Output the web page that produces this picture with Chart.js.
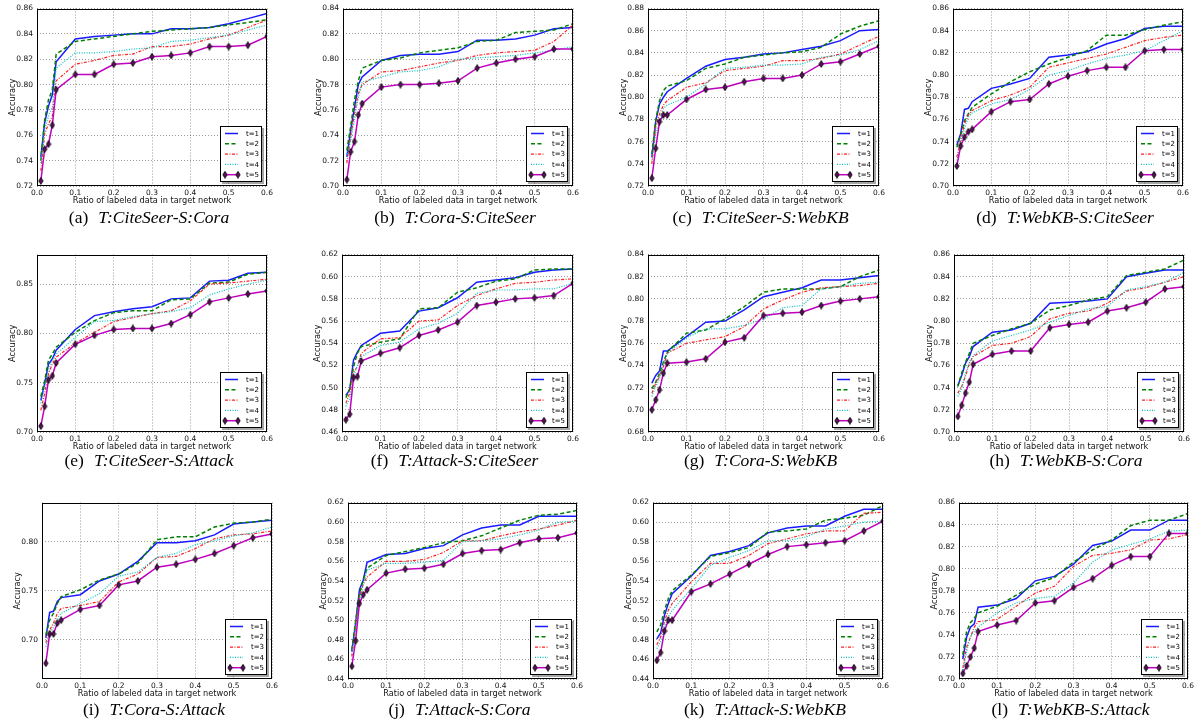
<!DOCTYPE html>
<html><head><meta charset="utf-8">
<script src="https://cdn.jsdelivr.net/npm/chart.js@4.4.0/dist/chart.umd.min.js"></script>
<style>
html,body{margin:0;padding:0;background:#fff;width:1201px;height:725px;overflow:hidden;position:relative;}
canvas{position:absolute;}
.cap{position:absolute;font-family:"Liberation Serif","Times New Roman",serif;font-size:17.5px;color:#000;white-space:nowrap;transform:translate(-50%,-50%);line-height:1;}
.cap i{margin-left:10px;}
</style></head><body>
<script>
const ratios = [0.01,0.02,0.03,0.04,0.05,0.1,0.15,0.2,0.25,0.3,0.35,0.4,0.45,0.5,0.55,0.6];
const seriesLabels = ['t=1','t=2','t=3','t=4','t=5'];
const xTickLabels = ['0.0','0.1','0.2','0.3','0.4','0.5','0.6'];
const xTitle = 'Ratio of labeled data in target network';
const yTitle = 'Accuracy';

// (a) T:CiteSeer-S:Cora
const a_t1 = [0.743,0.770,0.783,0.792,0.818,0.836,0.838,0.839,0.840,0.840,0.844,0.844,0.845,0.848,0.852,0.856];
const a_t2 = [0.740,0.772,0.788,0.796,0.824,0.834,0.836,0.838,0.840,0.842,0.843,0.844,0.845,0.847,0.849,0.851];
const a_t3 = [0.732,0.761,0.769,0.775,0.803,0.816,0.819,0.823,0.824,0.830,0.830,0.832,0.836,0.839,0.845,0.851];
const a_t4 = [0.738,0.764,0.775,0.782,0.813,0.825,0.825,0.826,0.828,0.829,0.834,0.835,0.837,0.839,0.843,0.847];
const a_t5 = [0.724,0.749,0.753,0.768,0.796,0.808,0.808,0.816,0.817,0.822,0.823,0.825,0.830,0.830,0.831,0.838];
// (b) T:Cora-S:CiteSeer
const b_t1 = [0.723,0.744,0.762,0.780,0.786,0.799,0.803,0.804,0.804,0.806,0.815,0.815,0.816,0.819,0.824,0.825];
const b_t2 = [0.728,0.747,0.768,0.783,0.793,0.799,0.801,0.805,0.807,0.809,0.814,0.815,0.821,0.822,0.823,0.828];
const b_t3 = [0.718,0.739,0.757,0.773,0.780,0.790,0.791,0.794,0.797,0.799,0.803,0.805,0.806,0.807,0.814,0.827];
const b_t4 = [0.723,0.736,0.752,0.770,0.782,0.786,0.790,0.791,0.794,0.800,0.801,0.802,0.803,0.805,0.807,0.810];
const b_t5 = [0.705,0.727,0.735,0.756,0.765,0.778,0.780,0.780,0.781,0.783,0.793,0.797,0.800,0.802,0.808,0.808];
// (c) T:CiteSeer-S:WebKB
const c_t1 = [0.746,0.778,0.794,0.800,0.805,0.817,0.828,0.834,0.836,0.839,0.840,0.843,0.846,0.851,0.860,0.861];
const c_t2 = [0.749,0.779,0.797,0.806,0.810,0.815,0.826,0.830,0.836,0.838,0.840,0.841,0.845,0.857,0.864,0.869];
const c_t3 = [0.740,0.773,0.785,0.793,0.797,0.809,0.813,0.824,0.826,0.828,0.833,0.833,0.835,0.839,0.847,0.855];
const c_t4 = [0.743,0.767,0.778,0.790,0.793,0.800,0.812,0.826,0.827,0.829,0.829,0.830,0.836,0.838,0.843,0.851];
const c_t5 = [0.727,0.754,0.778,0.784,0.784,0.798,0.807,0.809,0.814,0.817,0.817,0.820,0.830,0.832,0.839,0.846];
// (d) T:WebKB-S:CiteSeer
const d_t1 = [0.737,0.747,0.769,0.770,0.776,0.788,0.792,0.797,0.816,0.818,0.821,0.828,0.833,0.842,0.844,0.844];
const d_t2 = [0.735,0.746,0.759,0.765,0.771,0.783,0.794,0.803,0.810,0.816,0.822,0.836,0.836,0.841,0.845,0.848];
const d_t3 = [0.726,0.741,0.756,0.764,0.768,0.777,0.782,0.789,0.807,0.811,0.815,0.819,0.825,0.831,0.834,0.836];
const d_t4 = [0.723,0.738,0.752,0.762,0.766,0.774,0.778,0.787,0.800,0.804,0.810,0.815,0.818,0.822,0.831,0.840];
const d_t5 = [0.718,0.736,0.744,0.749,0.751,0.767,0.776,0.778,0.792,0.799,0.804,0.807,0.807,0.822,0.823,0.823];
// (e) T:CiteSeer-S:Attack
const e_t1 = [0.732,0.749,0.769,0.774,0.783,0.804,0.818,0.822,0.825,0.827,0.835,0.836,0.853,0.854,0.861,0.862];
const e_t2 = [0.736,0.752,0.773,0.779,0.786,0.801,0.813,0.821,0.823,0.823,0.834,0.835,0.851,0.852,0.860,0.862];
const e_t3 = [0.722,0.739,0.759,0.769,0.776,0.790,0.801,0.812,0.816,0.820,0.823,0.833,0.850,0.851,0.853,0.855];
const e_t4 = [0.729,0.746,0.763,0.773,0.779,0.796,0.812,0.813,0.817,0.820,0.822,0.826,0.839,0.845,0.850,0.854];
const e_t5 = [0.706,0.726,0.753,0.757,0.770,0.789,0.798,0.804,0.805,0.805,0.810,0.819,0.832,0.836,0.840,0.843];
// (f) T:Attack-S:CiteSeer
const f_t1 = [0.493,0.498,0.525,0.532,0.538,0.549,0.551,0.569,0.572,0.581,0.595,0.597,0.599,0.604,0.606,0.607];
const f_t2 = [0.491,0.499,0.519,0.531,0.537,0.541,0.544,0.571,0.572,0.586,0.590,0.596,0.598,0.606,0.607,0.607];
const f_t3 = [0.486,0.495,0.514,0.519,0.531,0.544,0.545,0.560,0.561,0.574,0.583,0.589,0.594,0.595,0.597,0.598];
const f_t4 = [0.483,0.490,0.510,0.520,0.528,0.538,0.541,0.553,0.558,0.567,0.585,0.588,0.588,0.589,0.589,0.594];
const f_t5 = [0.471,0.476,0.509,0.510,0.524,0.531,0.536,0.547,0.552,0.559,0.574,0.577,0.580,0.581,0.583,0.594];
// (g) T:Cora-S:WebKB
const g_t1 = [0.724,0.731,0.735,0.753,0.753,0.766,0.779,0.780,0.790,0.802,0.806,0.810,0.817,0.817,0.819,0.821];
const g_t2 = [0.719,0.725,0.733,0.743,0.752,0.769,0.772,0.782,0.793,0.806,0.809,0.809,0.809,0.811,0.820,0.826];
const g_t3 = [0.715,0.724,0.730,0.739,0.751,0.760,0.763,0.766,0.775,0.791,0.799,0.806,0.810,0.811,0.812,0.814];
const g_t4 = [0.712,0.721,0.728,0.742,0.751,0.765,0.773,0.773,0.776,0.782,0.792,0.794,0.809,0.811,0.814,0.815];
const g_t5 = [0.700,0.709,0.718,0.733,0.742,0.743,0.746,0.761,0.765,0.785,0.787,0.788,0.794,0.798,0.800,0.802];
// (h) T:WebKB-S:Cora
const h_t1 = [0.742,0.751,0.762,0.768,0.777,0.790,0.792,0.798,0.816,0.817,0.818,0.820,0.840,0.843,0.846,0.846];
const h_t2 = [0.741,0.753,0.763,0.771,0.780,0.787,0.793,0.798,0.810,0.814,0.819,0.822,0.841,0.844,0.847,0.855];
const h_t3 = [0.735,0.741,0.750,0.762,0.768,0.778,0.780,0.786,0.802,0.807,0.809,0.816,0.827,0.830,0.835,0.840];
const h_t4 = [0.732,0.739,0.753,0.763,0.769,0.782,0.787,0.792,0.799,0.805,0.811,0.813,0.828,0.831,0.835,0.844];
const h_t5 = [0.714,0.724,0.735,0.745,0.761,0.770,0.773,0.773,0.794,0.797,0.799,0.809,0.812,0.817,0.829,0.831];
// (i) T:Cora-S:Attack
const i_t1 = [0.702,0.728,0.729,0.739,0.743,0.746,0.760,0.767,0.780,0.799,0.799,0.801,0.807,0.818,0.820,0.822];
const i_t2 = [0.705,0.720,0.727,0.737,0.744,0.751,0.761,0.767,0.778,0.802,0.805,0.805,0.815,0.819,0.820,0.823];
const i_t3 = [0.697,0.710,0.717,0.727,0.732,0.735,0.739,0.759,0.767,0.784,0.785,0.793,0.803,0.807,0.808,0.811];
const i_t4 = [0.693,0.707,0.713,0.722,0.727,0.737,0.747,0.765,0.769,0.784,0.788,0.797,0.801,0.806,0.809,0.815];
const i_t5 = [0.676,0.706,0.706,0.717,0.720,0.731,0.735,0.756,0.760,0.774,0.777,0.782,0.788,0.796,0.804,0.808];
// (j) T:Attack-S:Cora
const j_t1 = [0.468,0.497,0.531,0.541,0.559,0.567,0.568,0.573,0.576,0.587,0.594,0.597,0.597,0.606,0.606,0.606];
const j_t2 = [0.470,0.499,0.527,0.541,0.553,0.566,0.570,0.574,0.579,0.581,0.586,0.594,0.602,0.607,0.608,0.612];
const j_t3 = [0.463,0.493,0.524,0.537,0.544,0.560,0.560,0.562,0.569,0.581,0.581,0.586,0.590,0.593,0.597,0.602];
const j_t4 = [0.465,0.492,0.520,0.536,0.551,0.558,0.558,0.559,0.561,0.580,0.581,0.583,0.587,0.592,0.600,0.601];
const j_t5 = [0.453,0.479,0.517,0.526,0.531,0.548,0.552,0.553,0.557,0.568,0.571,0.572,0.579,0.583,0.584,0.589];
// (k) T:Attack-S:WebKB
const k_t1 = [0.481,0.487,0.505,0.517,0.527,0.545,0.566,0.570,0.576,0.589,0.594,0.596,0.596,0.606,0.613,0.613];
const k_t2 = [0.488,0.495,0.510,0.522,0.530,0.546,0.565,0.569,0.574,0.590,0.591,0.593,0.602,0.604,0.607,0.617];
const k_t3 = [0.475,0.483,0.499,0.510,0.517,0.539,0.558,0.558,0.566,0.578,0.583,0.588,0.591,0.591,0.609,0.610];
const k_t4 = [0.471,0.478,0.493,0.504,0.510,0.532,0.556,0.564,0.571,0.581,0.581,0.585,0.593,0.596,0.600,0.601];
const k_t5 = [0.459,0.467,0.489,0.500,0.500,0.529,0.537,0.547,0.557,0.567,0.575,0.577,0.579,0.581,0.591,0.601];
// (l) T:WebKB-S:Attack
const l_t1 = [0.718,0.738,0.747,0.750,0.765,0.767,0.773,0.789,0.793,0.804,0.821,0.825,0.835,0.835,0.844,0.844];
const l_t2 = [0.722,0.743,0.751,0.755,0.760,0.766,0.776,0.786,0.792,0.806,0.817,0.826,0.839,0.844,0.844,0.850];
const l_t3 = [0.710,0.729,0.738,0.747,0.752,0.754,0.766,0.778,0.784,0.802,0.812,0.814,0.817,0.826,0.827,0.831];
const l_t4 = [0.708,0.725,0.738,0.743,0.747,0.760,0.769,0.773,0.775,0.787,0.806,0.817,0.822,0.827,0.834,0.835];
const l_t5 = [0.705,0.712,0.720,0.728,0.743,0.749,0.753,0.769,0.771,0.783,0.791,0.803,0.811,0.811,0.832,0.832];

// y-axis ranges: [min, max, step]
const yRange_a = [0.72,0.86,0.02], yRange_b = [0.70,0.84,0.02], yRange_c = [0.72,0.88,0.02], yRange_d = [0.70,0.86,0.02];
const yRange_e = [0.70,0.88,0.05], yRange_f = [0.46,0.62,0.02], yRange_g = [0.68,0.84,0.02], yRange_h = [0.70,0.86,0.02];
const yRange_i = [0.66,0.84,0.05], yRange_j = [0.44,0.62,0.02], yRange_k = [0.44,0.62,0.02], yRange_l = [0.70,0.86,0.02];

const panelTags = ['a','b','c','d','e','f','g','h','i','j','k','l'];
const panelNames = ['T:CiteSeer-S:Cora','T:Cora-S:CiteSeer','T:CiteSeer-S:WebKB','T:WebKB-S:CiteSeer',
  'T:CiteSeer-S:Attack','T:Attack-S:CiteSeer','T:Cora-S:WebKB','T:WebKB-S:Cora',
  'T:Cora-S:Attack','T:Attack-S:Cora','T:Attack-S:WebKB','T:WebKB-S:Attack'];
const panelSeries = [
  [a_t1,a_t2,a_t3,a_t4,a_t5],[b_t1,b_t2,b_t3,b_t4,b_t5],[c_t1,c_t2,c_t3,c_t4,c_t5],[d_t1,d_t2,d_t3,d_t4,d_t5],
  [e_t1,e_t2,e_t3,e_t4,e_t5],[f_t1,f_t2,f_t3,f_t4,f_t5],[g_t1,g_t2,g_t3,g_t4,g_t5],[h_t1,h_t2,h_t3,h_t4,h_t5],
  [i_t1,i_t2,i_t3,i_t4,i_t5],[j_t1,j_t2,j_t3,j_t4,j_t5],[k_t1,k_t2,k_t3,k_t4,k_t5],[l_t1,l_t2,l_t3,l_t4,l_t5]];
const panelY = [yRange_a,yRange_b,yRange_c,yRange_d,yRange_e,yRange_f,yRange_g,yRange_h,yRange_i,yRange_j,yRange_k,yRange_l];

// ---- layout (plot area: left, top, width, height) ----
const plotBoxes = [
 [37,8,230,178],[343,8,230,178],[648,8,231,178],[953,8,230,178],
 [37,254,230,178],[342,254,231,178],[648,254,231,178],[954,254,230,178],
 [42,502,230,177],[348,502,229,177],[653,502,230,177],[959,502,229,177]];
const captionY = [218,461,710];
const AXW = 40, PADT = 8, PADR = 14, XAH = 24;

const lineStyles = [
 {color:'#1a1aff', dash:[], w:1.5},
 {color:'#008000', dash:[4,2.5], w:1.5},
 {color:'#ff2020', dash:[3,1.5,1,1.5], w:1.2},
 {color:'#00bfbf', dash:[1,1.5], w:1.2},
 {color:'#bf00bf', dash:[], w:1.5, marker:true}];

function makeDiamond(){
  const c=document.createElement('canvas'); c.width=6; c.height=8;
  const x=c.getContext('2d');
  x.beginPath(); x.moveTo(3,0.6); x.lineTo(5.2,4); x.lineTo(3,7.4); x.lineTo(0.8,4); x.closePath();
  x.fillStyle='#5a105a'; x.fill(); x.strokeStyle='#000'; x.lineWidth=0.8; x.stroke();
  return c;
}
const diamond = makeDiamond();

const frameLegend = {
  id:'frameLegend',
  afterDatasetsDraw(chart){
    const {ctx, chartArea:ca} = chart;
    ctx.save();
    ctx.setLineDash([]);
    ctx.strokeStyle='#000'; ctx.lineWidth=1;
    const L=Math.round(ca.left), T=Math.round(ca.top), R=Math.round(ca.right), B=Math.round(ca.bottom);
    ctx.strokeRect(L+0.5,T+0.5,R-L-1,B-T-1);
    // legend
    const bw=42,bh=56; const bx=R-5-bw, by=B-4-bh;
    ctx.fillStyle='rgba(0,0,0,0.35)'; ctx.fillRect(bx+2,by+2,bw,bh);
    ctx.fillStyle='#fff'; ctx.fillRect(bx,by,bw,bh);
    ctx.strokeStyle='#000'; ctx.strokeRect(bx+0.5,by+0.5,bw-1,bh-1);
    chart.data.datasets.forEach((ds,i)=>{
      const yy = by+7.5+i*10.3;
      ctx.save();
      ctx.strokeStyle=ds.borderColor; ctx.lineWidth=ds.borderWidth; ctx.setLineDash(ds.borderDash||[]);
      ctx.beginPath(); ctx.moveTo(bx+5,yy); ctx.lineTo(bx+18,yy); ctx.stroke();
      ctx.restore();
      if (ds.pointRadius>0){
        ctx.drawImage(diamond,bx+5-diamond.width/2,yy-diamond.height/2);
        ctx.drawImage(diamond,bx+18-diamond.width/2,yy-diamond.height/2);
      }
      ctx.fillStyle='#000'; ctx.font='7px "DejaVu Sans"'; ctx.textBaseline='middle'; ctx.textAlign='left';
      ctx.fillText(ds.label,bx+26,yy+0.5);
    });
    ctx.restore();
  }
};

const tickFont = {family:'DejaVu Sans', size:7.5};
const titleFont = {family:'DejaVu Sans', size:8.2, lineHeight:1};

panelTags.forEach((tag,p)=>{
  const [pl,pt,pw,ph] = plotBoxes[p];
  const cv = document.createElement('canvas');
  const W = AXW+pw+PADR, H = PADT+ph+XAH;
  cv.width=W; cv.height=H;
  cv.style.left=(pl-AXW)+'px'; cv.style.top=(pt-PADT)+'px';
  cv.style.width=W+'px'; cv.style.height=H+'px';
  document.body.appendChild(cv);

  const datasets = panelSeries[p].map((arr,s)=>{
    const st = lineStyles[s];
    return {
      label: seriesLabels[s],
      data: ratios.map((x,k)=>({x:x, y:arr[k]})),
      borderColor: st.color, borderWidth: st.w, borderDash: st.dash,
      pointRadius: st.marker?3:0, pointStyle: st.marker?diamond:'circle',
      fill:false, tension:0, order: 5-s
    };
  });
  const [ymin,ymax,ystep] = panelY[p];
  new Chart(cv, {
    type:'line',
    data:{datasets},
    options:{
      animation:false, responsive:false, maintainAspectRatio:false, devicePixelRatio:1,
      layout:{padding:{left:0,top:PADT,right:PADR,bottom:0}},
      plugins:{legend:{display:false}, tooltip:{enabled:false}},
      scales:{
        x:{type:'linear', min:0, max:0.6,
          ticks:{stepSize:0.1, autoSkip:false, maxRotation:0, padding:3, color:'#111', font:tickFont,
                 callback:v=>xTickLabels[Math.round(v*10)]},
          grid:{color:'rgba(0,0,0,0.5)', lineWidth:0.8, drawTicks:false},
          border:{display:false, dash:[1,2]},
          title:{display:true, text:xTitle, color:'#111', font:titleFont, padding:{top:0,bottom:5}},
          afterFit:s=>{s.height=XAH;}},
        y:{type:'linear', min:ymin, max:ymax,
          ticks:{stepSize:ystep, includeBounds:false, padding:4, color:'#111', font:tickFont,
                 callback:v=>v.toFixed(2)},
          grid:{color:'rgba(0,0,0,0.5)', lineWidth:0.8, drawTicks:false},
          border:{display:false, dash:[1,2]},
          title:{display:true, text:yTitle, color:'#111', font:titleFont, padding:{top:12,bottom:0}},
          afterFit:s=>{s.width=AXW;}}
      }
    },
    plugins:[frameLegend]
  });

  const cap = document.createElement('div');
  cap.className='cap';
  cap.style.left=(pl+pw/2-3)+'px';
  cap.style.top=captionY[Math.floor(p/4)]+'px';
  const s1=document.createElement('span'); s1.textContent='('+tag+')';
  const s2=document.createElement('i'); s2.textContent=panelNames[p];
  cap.appendChild(s1); cap.appendChild(s2);
  document.body.appendChild(cap);
});
</script>
</body></html>
